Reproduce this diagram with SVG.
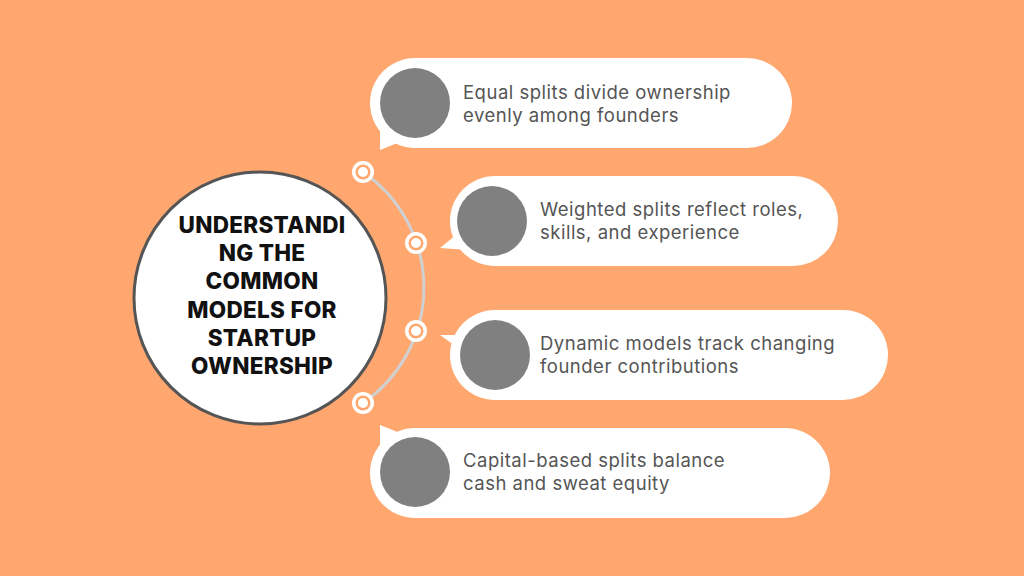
<svg xmlns="http://www.w3.org/2000/svg" width="1024" height="576" viewBox="0 0 1024 576">
<style>
.b{fill:#fff}
.g{fill:#808080}
.t{font-family:Inter,"Open Sans",sans-serif;font-size:18.5px;letter-spacing:0.5px;fill:#555}
.h{font-family:Inter,"Open Sans",sans-serif;font-size:22.5px;font-weight:800;fill:#111;text-anchor:middle;letter-spacing:0.3px}
.dot{fill:#fff}
.di{fill:#ffa76f}
</style>
<rect width="1024" height="576" fill="#ffa76f"/>
<g id="connectors">
<path d="M363,172 A140,140 0 0 1 363,403" fill="none" stroke="#d0d0d0" stroke-width="3"/>
</g>
<g id="dots">
<circle cx="363" cy="172" r="11" class="dot"/><circle cx="363" cy="172" r="7.5" class="di"/><circle cx="363" cy="172" r="5" class="dot"/>
<circle cx="416" cy="243" r="11" class="dot"/><circle cx="416" cy="243" r="7.5" class="di"/><circle cx="416" cy="243" r="5" class="dot"/>
<circle cx="416" cy="331" r="11" class="dot"/><circle cx="416" cy="331" r="7.5" class="di"/><circle cx="416" cy="331" r="5" class="dot"/>
<circle cx="363" cy="403" r="11" class="dot"/><circle cx="363" cy="403" r="7.5" class="di"/><circle cx="363" cy="403" r="5" class="dot"/>
</g>
<g id="center">
<circle cx="260" cy="298" r="126" fill="#fff" stroke="#555" stroke-width="3"/>
<text class="h"><tspan x="262" y="233">UNDERSTANDI</tspan><tspan x="262" y="261">NG THE</tspan><tspan x="262" y="289">COMMON</tspan><tspan x="262" y="318">MODELS FOR</tspan><tspan x="262" y="346">STARTUP</tspan><tspan x="262" y="374">OWNERSHIP</tspan></text>
</g>
<g id="n1">
<rect x="370" y="58" width="422" height="90" rx="45" class="b"/>
<path d="M380,130 L380,150 L405,140 Z" class="b"/>
<circle cx="415" cy="103" r="35" class="g"/>
<text class="t"><tspan x="463" y="99">Equal splits divide ownership</tspan><tspan x="463" y="122">evenly among founders</tspan></text>
</g>
<g id="n2">
<rect x="450" y="176" width="388" height="90" rx="45" class="b"/>
<path d="M462,230 L440,248 L468,250 Z" class="b"/>
<circle cx="492" cy="221" r="35" class="g"/>
<text class="t"><tspan x="540" y="216">Weighted splits reflect roles,</tspan><tspan x="540" y="239">skills, and experience</tspan></text>
</g>
<g id="n3">
<rect x="450" y="310" width="438" height="90" rx="45" class="b"/>
<path d="M462,335 L440,335 L468,355 Z" class="b"/>
<circle cx="495" cy="355" r="35" class="g"/>
<text class="t"><tspan x="540" y="350">Dynamic models track changing</tspan><tspan x="540" y="373">founder contributions</tspan></text>
</g>
<g id="n4">
<rect x="370" y="428" width="460" height="90" rx="45" class="b"/>
<path d="M380,445 L380,425 L405,435 Z" class="b"/>
<circle cx="415" cy="472" r="35" class="g"/>
<text class="t"><tspan x="463" y="467">Capital-based splits balance</tspan><tspan x="463" y="490">cash and sweat equity</tspan></text>
</g>
</svg>
